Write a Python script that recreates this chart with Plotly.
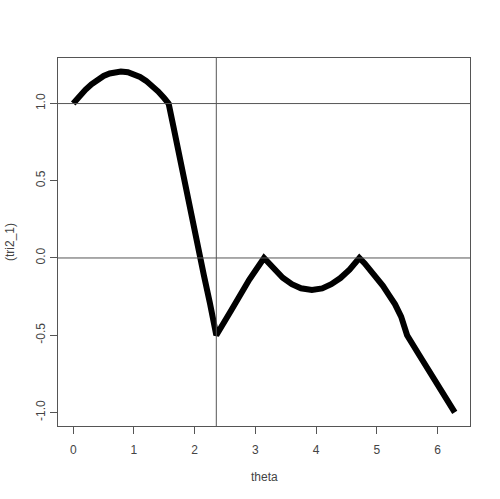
import plotly.graph_objects as go

# theta values, with the plotted values (tri2_1)
theta = [0.0, 0.1, 0.2, 0.3, 0.4, 0.5, 0.6, 0.7, 0.785, 0.9, 1.0, 1.1, 1.2, 1.3, 1.4, 1.5, 1.571,
         1.65, 1.75, 1.85, 1.95, 2.05, 2.15, 2.25, 2.356,
         2.6, 2.9, 3.1416,
         3.3, 3.45, 3.6, 3.75, 3.93, 4.1, 4.25, 4.4, 4.55, 4.712,
         4.8, 4.9, 5.0, 5.1, 5.2, 5.3, 5.4, 5.498,
         5.7, 5.9, 6.1, 6.283]
tri2_1 = [1.0, 1.047, 1.089, 1.125, 1.155, 1.179, 1.195, 1.204, 1.207, 1.203, 1.19, 1.172, 1.147, 1.116, 1.078, 1.034, 1.0,
          0.85, 0.65, 0.45, 0.26, 0.07, -0.11, -0.29, -0.5,
          -0.34, -0.14, 0.0,
          -0.073, -0.128, -0.17, -0.196, -0.207, -0.197, -0.17, -0.13, -0.075, 0.0,
          -0.035, -0.08, -0.13, -0.18, -0.24, -0.3, -0.38, -0.5,
          -0.63, -0.76, -0.885, -1.0]

hlines = [1.0, 0.0]
vlines = [2.356]

x_ticks = [0, 1, 2, 3, 4, 5, 6]
y_ticks = [-1.0, -0.5, 0.0, 0.5, 1.0]
y_tick_text = ["-1.0", "-0.5", "0.0", "0.5", "1.0"]

fig = go.Figure()
fig.add_trace(go.Scatter(x=theta, y=tri2_1, mode="lines",
                         line=dict(color="black", width=6),
                         showlegend=False, hoverinfo="skip"))

for h in hlines:
    fig.add_shape(type="line", xref="paper", x0=0, x1=1, yref="y", y0=h, y1=h,
                  line=dict(color="#555555", width=1))
for v in vlines:
    fig.add_shape(type="line", yref="paper", y0=0, y1=1, xref="x", x0=v, x1=v,
                  line=dict(color="#555555", width=1))

axis_font = dict(family="Liberation Sans, Arial, sans-serif", size=12, color="#444444")

fig.update_layout(
    width=500, height=499,
    margin=dict(l=58, r=30, t=58, b=73),
    paper_bgcolor="white", plot_bgcolor="white",
    xaxis=dict(range=[-0.251, 6.534], tickvals=x_ticks, ticktext=[str(t) for t in x_ticks],
               showgrid=False, zeroline=False, showline=True, mirror=True,
               linecolor="#555555", linewidth=1, ticks="outside", ticklen=7,
               tickcolor="#555555", tickfont=axis_font, ticklabelstandoff=6),
    yaxis=dict(range=[-1.088, 1.295], tickvals=y_ticks, ticktext=y_tick_text,
               tickangle=-90,
               showgrid=False, zeroline=False, showline=True, mirror=True,
               linecolor="#555555", linewidth=1, ticks="outside", ticklen=7,
               tickcolor="#555555", tickfont=axis_font),
    annotations=[
        dict(text="theta", xref="paper", yref="paper", x=0.5, y=0, yshift=-51,
             xanchor="center", yanchor="middle", showarrow=False, font=axis_font),
        dict(text="(tri2_1)", xref="paper", yref="paper", x=0, y=0.5, xshift=-48,
             textangle=-90, xanchor="center", yanchor="middle", showarrow=False, font=axis_font),
    ],
)

fig.write_html("out.html", config={"displayModeBar": False},
               post_script="document.body.style.margin='0';document.body.style.overflow='hidden';")
